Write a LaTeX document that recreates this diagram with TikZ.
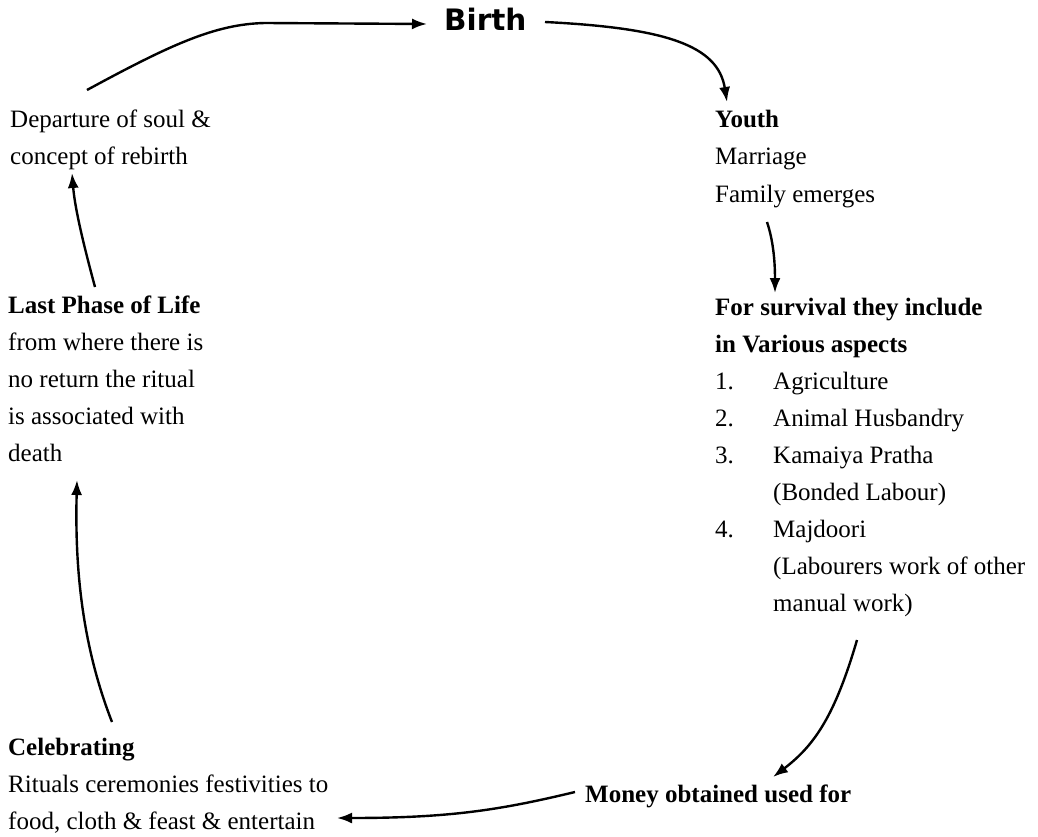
\documentclass[tikz,border=0pt]{standalone}
\usepackage{fontspec}
\setmainfont{Liberation Serif}
\newfontfamily\birthfont{DejaVu Sans}
\usetikzlibrary{arrows.meta}
\begin{document}
\begin{tikzpicture}[x=1pt,y=-1pt,
  lbl/.style={anchor=base west, inner sep=0pt, align=left, font=\fontsize{25}{37}\selectfont},
  conn/.style={line width=2.4pt, -{Latex[length=15pt,width=11pt]}},
]
\useasboundingbox (0,0) rectangle (1038,837);

% (anchor = baseline of the last line of each block; line pitch 37)
\node[anchor=base west, inner sep=0pt, font=\birthfont\bfseries\fontsize{29.5}{35}\selectfont] (birth) at (444,31) {Birth};

\node[lbl] (dep) at (10,165) {Departure of soul \&\\concept of rebirth};
\node[lbl] (last) at (8,461) {\textbf{Last Phase of Life}\\from where there is\\no return the ritual\\is associated with\\death};
\node[lbl] (cel) at (8,829) {\textbf{Celebrating}\\Rituals ceremonies festivities to\\food, cloth \& feast \& entertain};
\node[lbl] (youth) at (715,202) {\textbf{Youth}\\Marriage\\Family emerges};
\node[lbl] (surv) at (715,611) {\textbf{For survival they include}\\
\textbf{in Various aspects}\\
\makebox[58pt][l]{1.}Agriculture\\
\makebox[58pt][l]{2.}Animal Husbandry\\
\makebox[58pt][l]{3.}Kamaiya Pratha\\
\hspace*{58pt}(Bonded Labour)\\
\makebox[58pt][l]{4.}Majdoori\\
\hspace*{58pt}(Labourers work of other\\
\hspace*{58pt}manual work)};
\node[lbl, font=\bfseries\fontsize{25}{37}\selectfont] (money) at (585,802) {Money obtained used for};

% connector end points
\coordinate (depOut) at (87,90);
\coordinate (birthIn) at (427,24);
\coordinate (birthOut) at (545,22);
\coordinate (youthIn) at (727,102);
\coordinate (youthOut) at (767,222);
\coordinate (survIn) at (775,293);
\coordinate (survOut) at (857,640);
\coordinate (moneyIn) at (773,777);
\coordinate (moneyOut) at (575,792);
\coordinate (celIn) at (337,818);
\coordinate (celOut) at (112,722);
\coordinate (lastIn) at (77,480);
\coordinate (lastOut) at (95,287);
\coordinate (depIn) at (72,173);

\draw[conn] (depOut) .. controls (170,45) and (215,24) .. (265,23) -- (birthIn);
\draw[conn] (birthOut) .. controls (665,28) and (718,45) .. (youthIn);
\draw[conn] (youthOut) .. controls (773,240) and (775,260) .. (survIn);
\draw[conn] (survOut) .. controls (835,715) and (815,745) .. (moneyIn);
\draw[conn] (moneyOut) .. controls (500,810) and (450,818) .. (celIn);
\draw[conn] (celOut) .. controls (80,640) and (75,560) .. (lastIn);
\draw[conn] (lastOut) .. controls (85,250) and (75,210) .. (depIn);
\end{tikzpicture}
\end{document}
